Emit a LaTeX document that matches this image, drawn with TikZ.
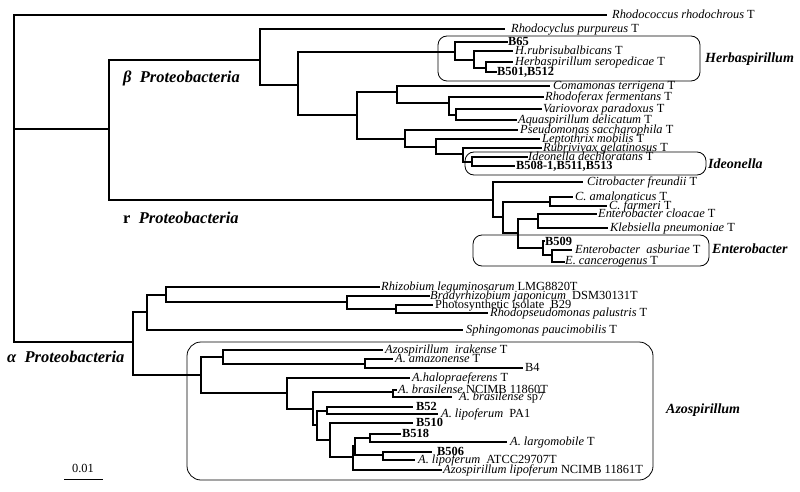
\documentclass[tikz,border=0pt]{standalone}
\usepackage{fontspec}
\setmainfont{Liberation Serif}
\begin{document}
\begin{tikzpicture}[x=1pt,y=-1pt,
  br/.style={line width=1.5pt},
  lab/.style={anchor=base west, inner sep=0pt, font=\fontsize{12.4}{13}\selectfont},
  blab/.style={anchor=base west, inner sep=0pt, font=\fontsize{12.4}{13}\selectfont\bfseries},
  clade/.style={anchor=west, inner sep=0pt, font=\fontsize{14}{16}\selectfont\bfseries\itshape},
  grp/.style={anchor=west, inner sep=0pt, font=\fontsize{16.5}{18}\selectfont\bfseries\itshape},
  cbox/.style={draw, rounded corners=9pt, line width=0.8pt}]
\useasboundingbox (0,0) rectangle (800,492);
% boxes
\draw[cbox] (438,36) rectangle (700,81);
\draw[cbox] (465,152) rectangle (706,175);
\draw[cbox] (473,235) rectangle (709,266);
\draw[cbox, rounded corners=14pt] (187,342) rectangle (653,480);
% internal nodes
\coordinate (root) at (14,129);
\coordinate (BG) at (109,129);
\coordinate (B) at (260,60);
\coordinate (B2) at (298,85);
\coordinate (Herb) at (455,52);
\coordinate (H1) at (474,60);
\coordinate (H2) at (486,68);
\coordinate (B3) at (357,115);
\coordinate (C1) at (397,92);
\coordinate (C3) at (449,103);
\coordinate (C4) at (456,115);
\coordinate (C2) at (405,139);
\coordinate (C5) at (436,147);
\coordinate (C6) at (463,154);
\coordinate (C7) at (472,162);
\coordinate (G) at (493,200);
\coordinate (G2) at (503,217);
\coordinate (G3) at (550,202);
\coordinate (G4) at (518,233);
\coordinate (G5) at (538,219);
\coordinate (G6) at (543,248);
\coordinate (G7) at (552,255);
\coordinate (A) at (133,342);
\coordinate (A1) at (147,312);
\coordinate (A2) at (166,295);
\coordinate (A3) at (347,302);
\coordinate (A4) at (396,309);
\coordinate (Az) at (201,375);
\coordinate (Z1) at (223,357);
\coordinate (Z3) at (365,364);
\coordinate (Z2) at (287,393);
\coordinate (Z4) at (313,409);
\coordinate (Zb) at (393,392);
\coordinate (Z5) at (317,425);
\coordinate (Z6) at (327,411);
\coordinate (Z7) at (330,440);
\coordinate (Z8) at (353,457);
\coordinate (Z9) at (355,446);
\coordinate (Z10) at (370,438);
\coordinate (Z11) at (383,455);
% leaves
\coordinate (lRhodococcus) at (607,15);
\coordinate (lRhodocyclus) at (505,29);
\coordinate (lB65) at (508,42);
\coordinate (lHrub) at (513,51);
\coordinate (lHsero) at (513,62);
\coordinate (lB501) at (497,72);
\coordinate (lComa) at (550,86);
\coordinate (lRfer) at (544,97);
\coordinate (lVario) at (542,109);
\coordinate (lAqua) at (517,120);
\coordinate (lPseudo) at (518,130);
\coordinate (lLepto) at (540,139);
\coordinate (lRubri) at (542,148);
\coordinate (lIdeo) at (528,157);
\coordinate (lB508) at (515,166);
\coordinate (lCitro) at (583,182);
\coordinate (lCamal) at (573,197);
\coordinate (lCfarm) at (607,206);
\coordinate (lCloac) at (597,214);
\coordinate (lKleb) at (608,228);
\coordinate (lB509) at (545,241);
\coordinate (lAsbu) at (572,250);
\coordinate (lCanc) at (565,262);
\coordinate (lRhizo) at (380,287);
\coordinate (lBrady) at (430,296);
\coordinate (lPhoto) at (433,305);
\coordinate (lRpal) at (488,313);
\coordinate (lSphingo) at (463,330);
\coordinate (lIrak) at (383,350);
\coordinate (lAmaz) at (393,359);
\coordinate (lB4) at (523,368);
\coordinate (lHalo) at (410,378);
\coordinate (lBras) at (397,390);
\coordinate (lSp7) at (452,397);
\coordinate (lB52) at (413,407);
\coordinate (lPA1) at (438,414);
\coordinate (lB510) at (413,423);
\coordinate (lB518) at (401,434);
\coordinate (lLargo) at (507,442);
\coordinate (lB506) at (432,452);
\coordinate (lATCC) at (415,460);
\coordinate (lNCIMB) at (442,470);
% branches
\draw[br] (root) |- (lRhodococcus);
\draw[br] (root) |- (BG);
\draw[br] (root) |- (A);
\draw[br] (BG) |- (B);
\draw[br] (BG) |- (G);
\draw[br] (B) |- (lRhodocyclus);
\draw[br] (B) |- (B2);
\draw[br] (B2) |- (Herb);
\draw[br] (B2) |- (B3);
\draw[br] (Herb) |- (lB65);
\draw[br] (Herb) |- (H1);
\draw[br] (H1) |- (lHrub);
\draw[br] (H1) |- (H2);
\draw[br] (H2) |- (lHsero);
\draw[br] (H2) |- (lB501);
\draw[br] (B3) |- (C1);
\draw[br] (B3) |- (C2);
\draw[br] (C1) |- (lComa);
\draw[br] (C1) |- (C3);
\draw[br] (C3) |- (lRfer);
\draw[br] (C3) |- (C4);
\draw[br] (C4) |- (lVario);
\draw[br] (C4) |- (lAqua);
\draw[br] (C2) |- (lPseudo);
\draw[br] (C2) |- (C5);
\draw[br] (C5) |- (lLepto);
\draw[br] (C5) |- (C6);
\draw[br] (C6) |- (lRubri);
\draw[br] (C6) |- (C7);
\draw[br] (C7) |- (lIdeo);
\draw[br] (C7) |- (lB508);
\draw[br] (G) |- (lCitro);
\draw[br] (G) |- (G2);
\draw[br] (G2) |- (G3);
\draw[br] (G2) |- (G4);
\draw[br] (G3) |- (lCamal);
\draw[br] (G3) |- (lCfarm);
\draw[br] (G4) |- (G5);
\draw[br] (G4) |- (G6);
\draw[br] (G5) |- (lCloac);
\draw[br] (G5) |- (lKleb);
\draw[br] (G6) |- (lB509);
\draw[br] (G6) |- (G7);
\draw[br] (G7) |- (lAsbu);
\draw[br] (G7) |- (lCanc);
\draw[br] (A) |- (A1);
\draw[br] (A) |- (Az);
\draw[br] (A1) |- (A2);
\draw[br] (A1) |- (lSphingo);
\draw[br] (A2) |- (lRhizo);
\draw[br] (A2) |- (A3);
\draw[br] (A3) |- (lBrady);
\draw[br] (A3) |- (A4);
\draw[br] (A4) |- (lPhoto);
\draw[br] (A4) |- (lRpal);
\draw[br] (Az) |- (Z1);
\draw[br] (Az) |- (Z2);
\draw[br] (Z1) |- (lIrak);
\draw[br] (Z1) |- (Z3);
\draw[br] (Z3) |- (lAmaz);
\draw[br] (Z3) |- (lB4);
\draw[br] (Z2) |- (lHalo);
\draw[br] (Z2) |- (Z4);
\draw[br] (Z4) |- (Zb);
\draw[br] (Z4) |- (Z5);
\draw[br] (Zb) |- (lBras);
\draw[br] (Zb) |- (lSp7);
\draw[br] (Z5) |- (Z6);
\draw[br] (Z5) |- (Z7);
\draw[br] (Z6) |- (lB52);
\draw[br] (Z6) |- (lPA1);
\draw[br] (Z7) |- (lB510);
\draw[br] (Z7) |- (Z8);
\draw[br] (Z8) |- (Z9);
\draw[br] (Z8) |- (lNCIMB);
\draw[br] (Z9) |- (Z10);
\draw[br] (Z9) |- (Z11);
\draw[br] (Z10) |- (lB518);
\draw[br] (Z10) |- (lLargo);
\draw[br] (Z11) |- (lB506);
\draw[br] (Z11) |- (lATCC);
% labels
\node[lab] (tRhodococcus) at (612,18.5) {\textit{Rhodococcus rhodochrous} T};
\node[lab] (tRhodocyclus) at (511,32.5) {\textit{Rhodocyclus purpureus} T};
\node[blab] (tB65) at (508,45.5) {B65};
\node[lab] (tHrub) at (515,54.5) {\textit{H.rubrisubalbicans} T};
\node[lab] (tHsero) at (515,65.5) {\textit{Herbaspirillum seropedicae} T};
\node[blab] (tB501) at (497,75.5) {B501,B512};
\node[lab] (tComa) at (553,89.5) {\textit{Comamonas terrigena} T};
\node[lab] (tRfer) at (545,100.5) {\textit{Rhodoferax fermentans} T};
\node[lab] (tVario) at (543,112.5) {\textit{Variovorax paradoxus} T};
\node[lab] (tAqua) at (518,123.5) {\textit{Aquaspirillum delicatum} T};
\node[lab] (tPseudo) at (520,133.5) {\textit{Pseudomonas saccharophila} T};
\node[lab] (tLepto) at (542,142.5) {\textit{Leptothrix mobilis} T};
\node[lab] (tRubri) at (543,151.5) {\textit{Rubrivivax gelatinosus} T};
\node[lab] (tIdeo) at (528,160.5) {\textit{Ideonella dechloratans} T};
\node[blab] (tB508) at (516,169.5) {B508-1,B511,B513};
\node[lab] (tCitro) at (587,185.5) {\textit{Citrobacter freundii} T};
\node[lab] (tCamal) at (575,200.5) {\textit{C. amalonaticus} T};
\node[lab] (tCfarm) at (609,209.5) {\textit{C. farmeri} T};
\node[lab] (tCloac) at (598,217.5) {\textit{Enterobacter cloacae} T};
\node[lab] (tKleb) at (610,231.5) {\textit{Klebsiella pneumoniae} T};
\node[blab] (tB509) at (545,245) {B509};
\node[lab] (tAsbu) at (575,253.5) {\textit{Enterobacter\ \ asburiae} T};
\node[lab] (tCanc) at (565,264.5) {\textit{E. cancerogenus} T};
\node[lab] (tRhizo) at (381,290.5) {\textit{Rhizobium leguminosarum} LMG8820T};
\node[lab] (tBrady) at (430,299.5) {\textit{Bradyrhizobium japonicum}\ \ DSM30131T};
\node[lab] (tPhoto) at (435,308.5) {Photosynthetic isolate\ \ B29};
\node[lab] (tRpal) at (490,316.5) {\textit{Rhodopseudomonas palustris} T};
\node[lab] (tSphingo) at (466,333.5) {\textit{Sphingomonas paucimobilis} T};
\node[lab] (tIrak) at (385,353.5) {\textit{Azospirillum\ \ irakense} T};
\node[lab] (tAmaz) at (395,362.5) {\textit{A. amazonense} T};
\node[lab] (tB4) at (525,371.5) {B4};
\node[lab] (tHalo) at (412,381.5) {\textit{A.halopraeferens} T};
\node[lab] (tBras) at (398,393.5) {\textit{A. brasilense} NCIMB 11860T};
\node[lab] (tSp7) at (459,400.5) {\textit{A. brasilense} sp7};
\node[blab] (tB52) at (416,410.5) {B52};
\node[lab] (tPA1) at (441,417.5) {\textit{A. lipoferum}\ \ PA1};
\node[blab] (tB510) at (416,426.5) {B510};
\node[blab] (tB518) at (402,437) {B518};
\node[lab] (tLargo) at (510,445.5) {\textit{A. largomobile} T};
\node[blab] (tB506) at (437,455) {B506};
\node[lab] (tATCC) at (418,463.5) {\textit{A. lipoferum}\ \ ATCC29707T};
\node[lab] (tNCIMB) at (443,473.5) {\textit{Azospirillum lipoferum} NCIMB 11861T};
% clade labels
\node[clade] (cHerb) at (705,59) {Herbaspirillum};
\node[clade] (cIdeo) at (708,164) {Ideonella};
\node[clade] (cEnt) at (712,249) {Enterobacter};
\node[clade] (cAzo) at (666,410) {Azospirillum};
\node[grp] (gBeta) at (123,78) {β\ \ Proteobacteria};
\node[grp] (gGamma) at (123,218) {{\upshape r}\ \ Proteobacteria};
\node[grp] (gAlpha) at (7,357) {α\ \ Proteobacteria};
% scale bar
\coordinate (sbL) at (64,479);
\coordinate (sbR) at (103,479);
\draw[line width=1pt] (sbL) -- (sbR);
\node[lab, anchor=center] (sbT) at (83,468) {0.01};
\end{tikzpicture}
\end{document}
